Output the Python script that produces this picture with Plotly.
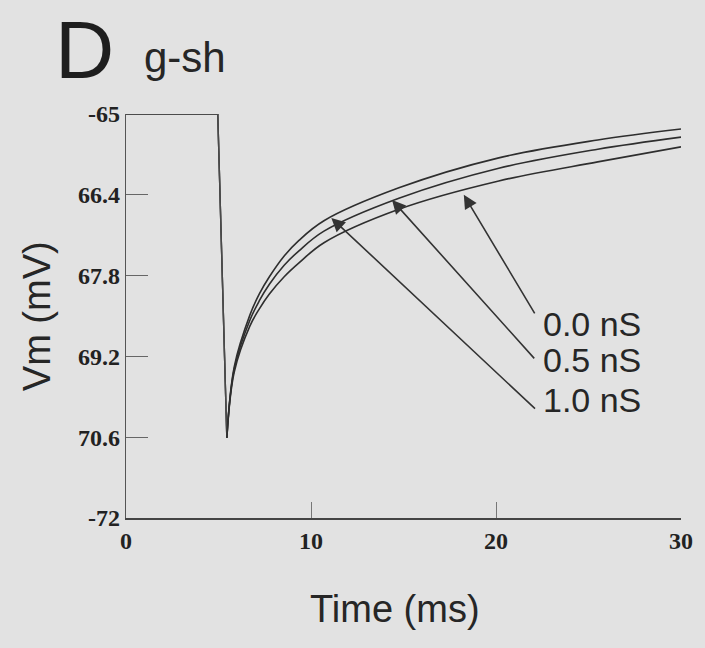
import plotly.graph_objects as go

# ---------------- data ----------------
time_rest = [0.0, 4.96]          # ms, resting segment before the pulse
v_rest = [-65.0, -65.0]          # mV

time_rec = [5.45, 5.85, 6.7, 7.2, 7.75, 8.55, 9.35, 10.7, 14.75, 20.15, 25.5, 30.0]
v_00nS = [-70.61, -69.47, -68.67, -68.38, -68.12, -67.82, -67.58, -67.23, -66.65, -66.16, -65.83, -65.57]
v_05nS = [-70.61, -69.42, -68.57, -68.24, -67.95, -67.62, -67.37, -67.03, -66.46, -65.94, -65.61, -65.40]
v_10nS = [-70.61, -69.38, -68.48, -68.12, -67.82, -67.46, -67.19, -66.85, -66.28, -65.76, -65.45, -65.26]

series_names = ["0.0 nS", "0.5 nS", "1.0 nS"]
series_values = [v_00nS, v_05nS, v_10nS]

y_tickvals = [-65, -66.4, -67.8, -69.2, -70.6, -72]
y_ticktext = ["-65", "66.4", "67.8", "69.2", "70.6", "-72"]
x_tickvals = [0, 10, 20, 30]
x_ticktext = ["0", "10", "20", "30"]

# ---------------- figure ----------------
BG = "#e2e2e2"
LINE = "#2e2e2e"
fig = go.Figure()

for name, vals in zip(series_names, series_values):
    fig.add_trace(go.Scatter(
        x=time_rest + [time_rec[0]], y=v_rest + [vals[0]],
        mode="lines", line=dict(color="#4a4a4a", width=1.4),
        showlegend=False, hoverinfo="skip", cliponaxis=False))
    fig.add_trace(go.Scatter(
        x=time_rec, y=vals, name=name, mode="lines",
        line=dict(color=LINE, width=1.6, shape="spline", smoothing=1.0),
        showlegend=False, cliponaxis=False))

# arrow labels (tip on curve, tail near label)
labels = [
    dict(text="0.0 nS", tip=(18.26, -66.40), tail=(22.14, -68.48), ty=-68.63),
    dict(text="0.5 nS", tip=(14.38, -66.49), tail=(22.14, -69.26), ty=-69.27),
    dict(text="1.0 nS", tip=(11.10, -66.80), tail=(22.19, -70.13), ty=-69.96),
]
annotations = []
for lb in labels:
    annotations.append(dict(
        x=lb["tip"][0], y=lb["tip"][1], ax=lb["tail"][0], ay=lb["tail"][1],
        xref="x", yref="y", axref="x", ayref="y", text="",
        showarrow=True, arrowhead=2, arrowsize=1.7, arrowwidth=1.6,
        arrowcolor="#333333"))
    annotations.append(dict(
        x=22.45, y=lb["ty"], xref="x", yref="y", text=lb["text"],
        showarrow=False, xanchor="left", yanchor="middle",
        font=dict(family="Liberation Sans, Arial", size=34, color="#262626")))

annotations += [
    dict(text="D", x=-0.074, y=1.16, xref="paper", yref="paper",
         showarrow=False, xanchor="center", yanchor="middle",
         font=dict(family="Liberation Sans, Arial", size=82, color="#1e1e1e")),
    dict(text="g-sh", x=0.028, y=1.141, xref="paper", yref="paper",
         showarrow=False, xanchor="left", yanchor="middle",
         font=dict(family="Liberation Sans, Arial", size=42, color="#262626")),
    dict(text="Time (ms)", x=0.485, y=-0.225, xref="paper", yref="paper",
         showarrow=False, xanchor="center", yanchor="middle",
         font=dict(family="Liberation Sans, Arial", size=38, color="#262626")),
    dict(text="Vm (mV)", x=-0.16, y=0.5, xref="paper", yref="paper",
         showarrow=False, xanchor="center", yanchor="middle", textangle=-90,
         font=dict(family="Liberation Sans, Arial", size=38, color="#262626")),
]

fig.update_layout(
    width=705, height=648,
    margin=dict(l=126, r=22, t=114, b=130),
    paper_bgcolor=BG, plot_bgcolor=BG,
    showlegend=False,
    annotations=annotations,
)
fig.update_xaxes(
    range=[0, 30], tickvals=x_tickvals, ticktext=["<b>%s</b>" % t for t in x_ticktext],
    ticks="inside", ticklen=16, tickwidth=1.2, tickcolor="#777777",
    showline=True, linecolor="#444444", linewidth=1.6,
    showgrid=False, zeroline=False,
    tickfont=dict(family="Liberation Serif, Times New Roman", size=24, color="#222222"),
)
fig.update_yaxes(
    range=[-72, -65], tickvals=y_tickvals, ticktext=["<b>%s</b>" % t for t in y_ticktext],
    ticks="inside", ticklen=22, tickwidth=1.2, tickcolor="#666666",
    showline=True, linecolor="#555555", linewidth=1.4,
    showgrid=False, zeroline=False,
    tickfont=dict(family="Liberation Serif, Times New Roman", size=24, color="#222222"),
)

fig.write_html("out.html")
